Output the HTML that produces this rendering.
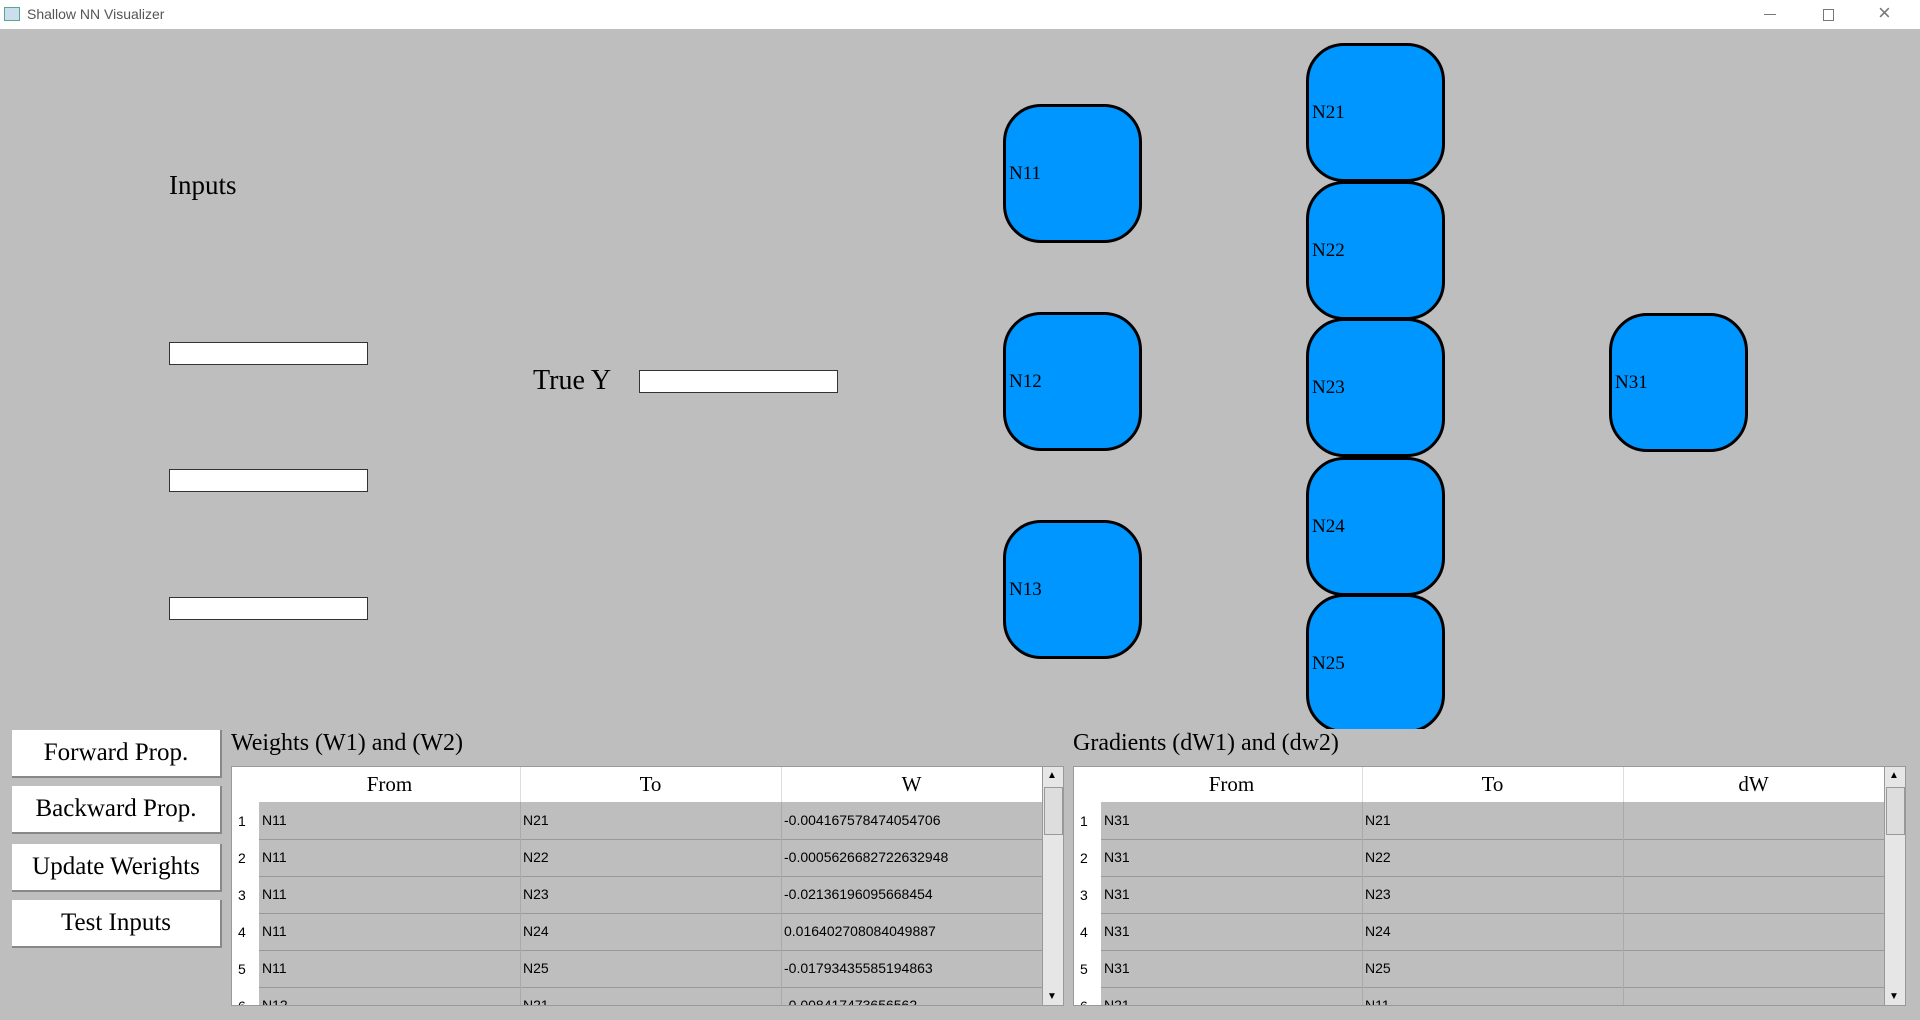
<!DOCTYPE html>
<html><head><style>
body{margin:0;width:1920px;height:1020px;background:#bebebe;position:relative;overflow:hidden;font-family:"Liberation Serif",serif;}
.tb{position:absolute;left:0;top:0;width:1920px;height:29px;background:#fff;}
.tb span{position:absolute;left:27px;top:6px;font:14px "Liberation Sans",sans-serif;color:#555;}
.ab{position:absolute;}
.node{position:absolute;width:133px;height:133px;background:#0096ff;border:3px solid #000;border-radius:38px;}
.node span{position:absolute;left:3px;top:56px;font-size:19px;}
.inp{position:absolute;width:197px;height:21px;background:#fff;border:1px solid #333;}
.btn{position:absolute;left:12px;width:208px;height:46px;background:#fff;border-bottom:2px solid #888;border-right:2px solid #888;font-size:25px;text-align:center;line-height:46px;}
.lbl{position:absolute;top:730px;font-size:24px;}
.tbl{position:absolute;top:766px;width:831px;height:238px;background:#bebebe;border:1px solid #999;overflow:hidden;}
.tbl .rn{position:absolute;left:0;top:0;width:27px;height:240px;background:#fff;}
.tbl .hd{position:absolute;left:27px;top:0;width:783px;height:35px;background:#fff;}
.hd div{position:absolute;top:0;width:261px;height:35px;line-height:35px;text-align:center;font-size:21px;border-right:1px solid #ddd;}
.row{position:absolute;left:27px;width:783px;height:37px;border-bottom:1px solid #999;font:14px "Liberation Sans",sans-serif;}
.row div{position:absolute;top:0;width:258px;height:37px;line-height:37px;padding-left:3px;border-right:1px solid #aaa;}
.num{position:absolute;left:6px;font:14px "Liberation Sans",sans-serif;}
.sb{position:absolute;right:0;top:0;width:20px;height:238px;background:#e6e6e6;border-left:1px solid #999;}
.sb .th{position:absolute;left:1px;top:20px;width:17px;height:46px;background:#ddd;border:1px solid #999;}
.sb .a{position:absolute;left:4px;font-size:10px;}
</style></head><body>
<div class="tb"><span>Shallow NN Visualizer</span>
<div class="ab" style="left:4px;top:7px;width:14px;height:12px;border:1px solid #5a8;background:#cde"></div>
<div class="ab" style="left:1764px;top:14px;width:12px;height:1px;background:#777"></div>
<div class="ab" style="left:1823px;top:9px;width:9px;height:10px;border:1px solid #777"></div>
<div class="ab" style="left:1878px;top:0px;font:22px 'Liberation Sans',sans-serif;color:#777">×</div>
</div>
<div class="ab" style="left:169px;top:170px;font-size:27px">Inputs</div>
<div class="inp" style="left:169px;top:342px"></div>
<div class="inp" style="left:169px;top:469px"></div>
<div class="inp" style="left:169px;top:597px"></div>
<div class="ab" style="left:533px;top:365px;font-size:28px">True Y</div>
<div class="inp" style="left:639px;top:370px"></div>

<div class="node" style="left:1003px;top:104px"><span>N11</span></div>
<div class="node" style="left:1003px;top:312px"><span>N12</span></div>
<div class="node" style="left:1003px;top:520px"><span>N13</span></div>
<div class="node" style="left:1306px;top:43px"><span>N21</span></div>
<div class="node" style="left:1306px;top:181px"><span>N22</span></div>
<div class="node" style="left:1306px;top:318px"><span>N23</span></div>
<div class="node" style="left:1306px;top:457px"><span>N24</span></div>
<div style="position:absolute;left:1300px;top:590px;width:160px;height:139px;overflow:hidden"><div class="node" style="left:6px;top:4px"><span>N25</span></div></div>
<div class="node" style="left:1609px;top:313px"><span>N31</span></div>

<div class="btn" style="top:730px">Forward Prop.</div>
<div class="btn" style="top:786px">Backward Prop.</div>
<div class="btn" style="top:844px">Update Werights</div>
<div class="btn" style="top:900px">Test Inputs</div>

<div class="lbl" style="left:231px">Weights (W1) and (W2)</div>
<div class="tbl" style="left:231px">
<div class="rn"></div>
<div class="hd"><div style="left:0">From</div><div style="left:261px">To</div><div style="left:522px">W</div></div>
<div class="num" style="top:46px">1</div><div class="row" style="top:35px"><div style="left:0">N11</div><div style="left:261px">N21</div><div style="left:522px">-0.004167578474054706</div></div>
<div class="num" style="top:83px">2</div><div class="row" style="top:72px"><div style="left:0">N11</div><div style="left:261px">N22</div><div style="left:522px">-0.0005626682722632948</div></div>
<div class="num" style="top:120px">3</div><div class="row" style="top:109px"><div style="left:0">N11</div><div style="left:261px">N23</div><div style="left:522px">-0.02136196095668454</div></div>
<div class="num" style="top:157px">4</div><div class="row" style="top:146px"><div style="left:0">N11</div><div style="left:261px">N24</div><div style="left:522px">0.016402708084049887</div></div>
<div class="num" style="top:194px">5</div><div class="row" style="top:183px"><div style="left:0">N11</div><div style="left:261px">N25</div><div style="left:522px">-0.01793435585194863</div></div>
<div class="num" style="top:231px">6</div><div class="row" style="top:220px"><div style="left:0">N12</div><div style="left:261px">N21</div><div style="left:522px">-0.008417473656562</div></div>
<div class="sb"><div class="a" style="top:3px">▲</div><div class="th"></div><div class="a" style="bottom:3px">▼</div></div>
</div>

<div class="lbl" style="left:1073px">Gradients (dW1) and (dw2)</div>
<div class="tbl" style="left:1073px">
<div class="rn"></div>
<div class="hd"><div style="left:0">From</div><div style="left:261px">To</div><div style="left:522px">dW</div></div>
<div class="num" style="top:46px">1</div><div class="row" style="top:35px"><div style="left:0">N31</div><div style="left:261px">N21</div><div style="left:522px"></div></div>
<div class="num" style="top:83px">2</div><div class="row" style="top:72px"><div style="left:0">N31</div><div style="left:261px">N22</div><div style="left:522px"></div></div>
<div class="num" style="top:120px">3</div><div class="row" style="top:109px"><div style="left:0">N31</div><div style="left:261px">N23</div><div style="left:522px"></div></div>
<div class="num" style="top:157px">4</div><div class="row" style="top:146px"><div style="left:0">N31</div><div style="left:261px">N24</div><div style="left:522px"></div></div>
<div class="num" style="top:194px">5</div><div class="row" style="top:183px"><div style="left:0">N31</div><div style="left:261px">N25</div><div style="left:522px"></div></div>
<div class="num" style="top:231px">6</div><div class="row" style="top:220px"><div style="left:0">N21</div><div style="left:261px">N11</div><div style="left:522px"></div></div>
<div class="sb"><div class="a" style="top:3px">▲</div><div class="th"></div><div class="a" style="bottom:3px">▼</div></div>
</div>
</body></html>
